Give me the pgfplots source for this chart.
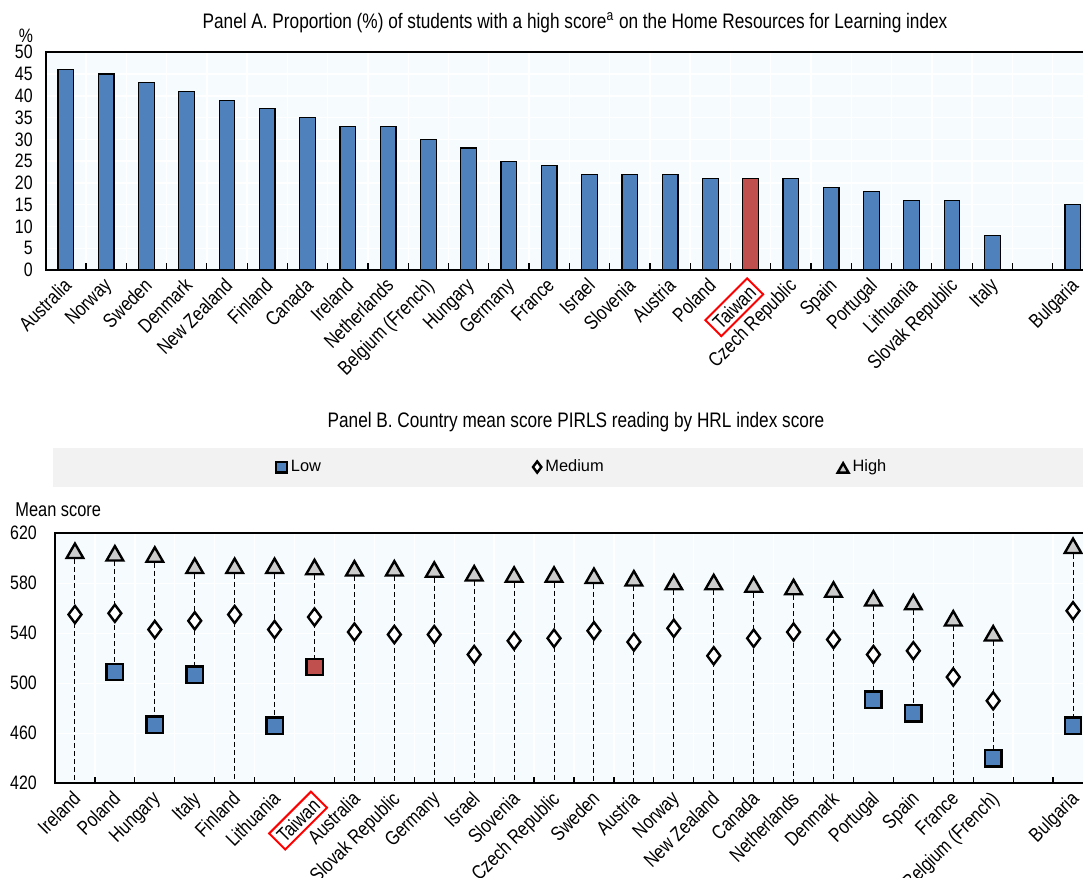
\documentclass[border=0pt]{standalone}
\usepackage{pgfplots}
\pgfplotsset{compat=1.18}
\usepackage{pgfplotstable}
\usepackage{fontspec}
\setmainfont{Liberation Sans}[FakeStretch=0.82]
\newfontfamily\legendfont{Liberation Sans}

\definecolor{barblue}{RGB}{79,129,189}
\definecolor{barred}{RGB}{192,80,77}
\definecolor{plotbg}{RGB}{246,251,253}
\definecolor{bandgray}{RGB}{242,242,242}
\definecolor{trigray}{RGB}{204,204,204}

\newcommand\ttl{\fontsize{10.5}{12}\selectfont}
\newcommand\tck{\fontsize{9.7}{11}\selectfont}
\newcommand\lbl{\fontsize{10}{12}\selectfont}
\newcommand\tw{{\setlength\fboxsep{1.5pt}\setlength\fboxrule{1pt}\fcolorbox{red}{white}{Taiwan}}}

% Panel A: share of students with a high HRL score (Taiwan drawn separately)
\pgfplotstableread{
x val
0 46
1 45
2 43
3 41
4 39
5 37
6 35
7 33
8 33
9 30
10 28
11 25
12 24
13 22
14 22
15 22
16 21
18 21
19 19
20 18
21 16
22 16
23 8
25 15
}\pa

% Panel B: mean score by HRL level; bot = lower end of the dashed line
\pgfplotstableread{
x low mid high bot
0 nan 555 606 420
1 509 556 604 509
2 467 543 603 467
3 507 550 594 507
4 nan 555 594 420
5 466 543 594 466
6 nan 553 593 513
7 nan 541 592 420
8 nan 539 592 420
9 nan 539 591 420
10 nan 523 588 420
11 nan 534 587 420
12 nan 536 587 420
13 nan 542 586 420
14 nan 533 584 420
15 nan 544 581 420
16 nan 522 581 420
17 nan 536 579 420
18 nan 541 577 420
19 nan 535 575 420
20 487 523 568 487
21 476 526 565 476
22 nan 505 552 420
23 440 486 540 440
25 466 558 610 466
}\pb

\pgfplotsset{
  oecd/.style={
    scale only axis, xmin=-0.5, xmax=25.5,
    axis background/.style={fill=plotbg},
    axis line style={line width=0.9pt},
    xtick={0,...,23,25},
    minor xtick={0.5,1.5,...,24.5},
    tick pos=left, tick align=inside,
    major tick length=0pt, minor tick length=3.3pt,
    tick style={black, line width=0.6pt},
    xminorgrids, ymajorgrids,
    grid style={white, line width=0.7pt},
    minor grid style={white, line width=0.7pt},
    xticklabel style={rotate=45, anchor=north east, font=\lbl, inner sep=1pt, xshift=-2.5pt},
    yticklabel style={font=\tck},
    /pgf/number format/assume math mode=true,
  },
  mk/.style={only marks,
    legend image code/.code={\draw[##1, /tikz/every mark/.append style={scale=0.65}] plot coordinates {(0pt,0pt)};}},
}

\begin{document}
\begin{tikzpicture}
\useasboundingbox (0,0) rectangle (541.5pt,439pt);

\begin{axis}[oecd,
    at={(22.85pt,304pt)}, anchor=south west,
    width=523.65pt, height=108.85pt,
    ymin=0, ymax=50, ytick={0,5,...,50},
    yticklabel style={xshift=-3pt},
    xticklabels={Australia,Norway,Sweden,Denmark,New Zealand,Finland,Canada,Ireland,Netherlands,Belgium (French),Hungary,Germany,France,Israel,Slovenia,Austria,Poland,\tw,Czech Republic,Spain,Portugal,Lithuania,Slovak Republic,Italy,Bulgaria},
  ]
\addplot[ybar, bar width=7.85pt, fill=barblue, draw=black, line width=0.6pt] table[x=x, y=val] {\pa};
\addplot[ybar, bar width=7.85pt, fill=barred, draw=black, line width=0.6pt] coordinates {(17,21)};
\end{axis}

\fill[bandgray] (26.5pt,195.65pt) rectangle (541.5pt,214.8pt);

\begin{axis}[oecd,
    at={(27.5pt,47.35pt)}, anchor=south west,
    width=519pt, height=125pt,
    ymin=420, ymax=620, ytick={420,460,...,620},
    yticklabel style={xshift=-5.6pt},
    xticklabels={Ireland,Poland,Hungary,Italy,Finland,Lithuania,\tw,Australia,Slovak Republic,Germany,Israel,Slovenia,Czech Republic,Sweden,Austria,Norway,New Zealand,Canada,Netherlands,Denmark,Portugal,Spain,France,Belgium (French),Bulgaria},
    legend columns=3,
    legend style={at={(0.207,1.265)}, anchor=west, draw=none, fill=none,
      font=\legendfont\fontsize{8.2}{10}\selectfont,
      /tikz/column 2/.style={column sep=104pt},
      /tikz/column 4/.style={column sep=115pt}},
  ]
\addplot[only marks, mark=none, forget plot,
  error bars/.cd, y dir=minus, y explicit, error mark=none,
  error bar style={black, line width=0.5pt, dash pattern=on 2.5pt off 1.5pt}]
  table[x=x, y=high, y error expr=\thisrow{high}-\thisrow{bot}] {\pb};
\addplot[mk, mark=square*, mark size=4.1pt,
  mark options={fill=barblue, draw=black, line width=1.2pt}]
  table[x=x, y=low] {\pb};
\addlegendentry{Low}
\addplot[only marks, forget plot, mark=square*, mark size=4.1pt,
  mark options={fill=barred, draw=black, line width=1.2pt}]
  coordinates {(6,513)};
\addplot[mk, mark=diamond*, mark size=4.3pt,
  mark options={fill=white, draw=black, line width=1.2pt}]
  table[x=x, y=mid] {\pb};
\addlegendentry{Medium}
\addplot[mk, mark=triangle*, mark size=4.8pt,
  mark options={fill=trigray, draw=black, line width=1.2pt, yshift=-1.2pt}]
  table[x=x, y=high] {\pb};
\addlegendentry{High}
\end{axis}

\node[anchor=base, font=\ttl] at (287.5pt,424.85pt)
  {Panel A. Proportion (\%) of students with a high score\textsuperscript{a} on the Home Resources for Learning index};
\node[anchor=base, font=\ttl] at (288pt,225pt)
  {Panel B. Country mean score PIRLS reading by HRL index score};
\node[anchor=base, font=\tck, inner sep=0pt] at (13pt,417.5pt) {\%};
\node[anchor=base west, font=\lbl, inner sep=0pt] at (7.5pt,180.5pt) {Mean score};
\end{tikzpicture}
\end{document}
